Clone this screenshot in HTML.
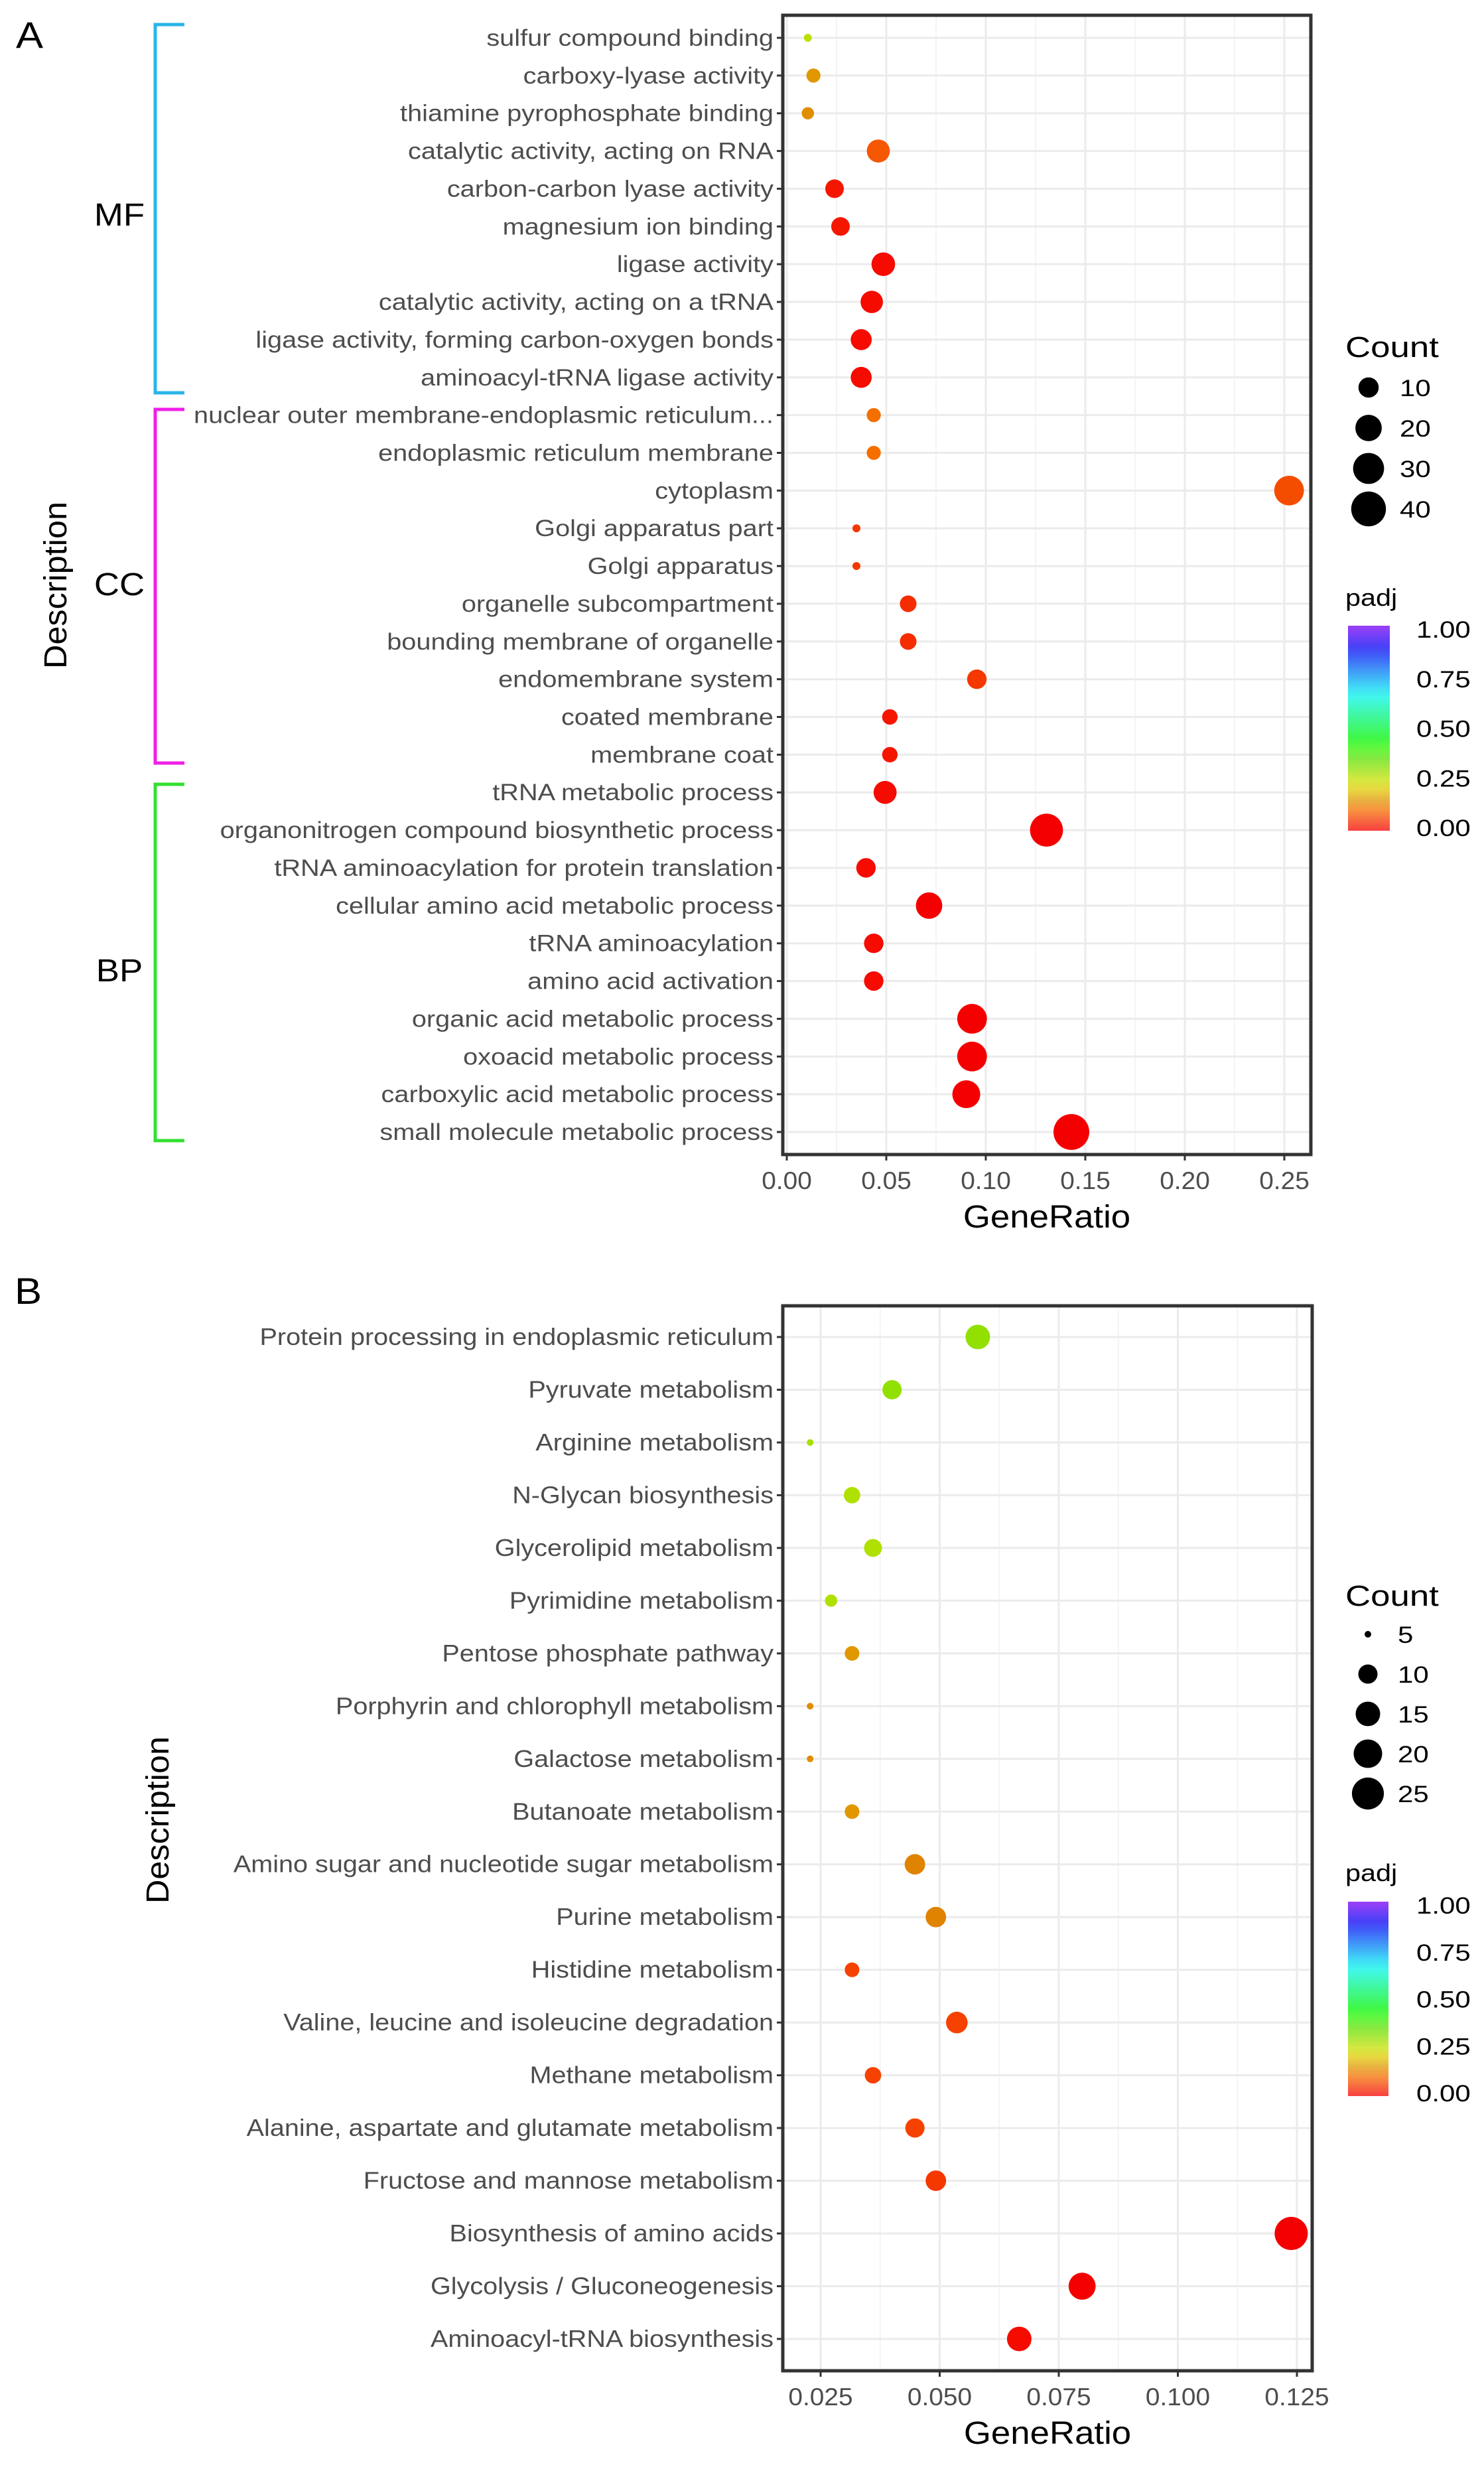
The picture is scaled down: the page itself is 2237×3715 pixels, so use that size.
<!DOCTYPE html>
<html><head><meta charset="utf-8"><style>
html,body{margin:0;padding:0;background:#fff}
svg{display:block}
text{font-family:"Liberation Sans",Arial,sans-serif}
</style></head><body>
<svg id="svg" xmlns="http://www.w3.org/2000/svg" width="2237" height="3715" viewBox="0 0 2237 3715">
<defs>
<linearGradient id="gradA" x1="0" y1="1" x2="0" y2="0"></linearGradient>
</defs>
<g id="root"></g>
</svg>
<script>
// ---------- Panel A data ----------
const termsA = ["sulfur compound binding","carboxy-lyase activity","thiamine pyrophosphate binding","catalytic activity, acting on RNA","carbon-carbon lyase activity","magnesium ion binding","ligase activity","catalytic activity, acting on a tRNA","ligase activity, forming carbon-oxygen bonds","aminoacyl-tRNA ligase activity","nuclear outer membrane-endoplasmic reticulum...","endoplasmic reticulum membrane","cytoplasm","Golgi apparatus part","Golgi apparatus","organelle subcompartment","bounding membrane of organelle","endomembrane system","coated membrane","membrane coat","tRNA metabolic process","organonitrogen compound biosynthetic process","tRNA aminoacylation for protein translation","cellular amino acid metabolic process","tRNA aminoacylation","amino acid activation","organic acid metabolic process","oxoacid metabolic process","carboxylic acid metabolic process","small molecule  metabolic process"];
const ratioA = [0.0106,0.0134,0.0106,0.046,0.024,0.027,0.0485,0.0427,0.0374,0.0374,0.0437,0.0437,0.2524,0.035,0.035,0.061,0.061,0.0955,0.0518,0.0518,0.0494,0.1305,0.0398,0.0715,0.0437,0.0437,0.0931,0.0931,0.0902,0.143];
const countA = [2,4,3,14,8,8,15,13,11,11,4,4,27,2,2,6,6,9,5,5,14,35,9,20,9,9,27,27,23,43];
const padjA = [0.26,0.15,0.14,0.08,0.02,0.02,0.01,0.01,0.01,0.01,0.1,0.1,0.07,0.05,0.05,0.04,0.04,0.05,0.02,0.02,0.01,0.0,0.01,0.0,0.01,0.01,0.0,0.0,0.0,0.0];
const xTicksA = [0,0.05,0.10,0.15,0.20,0.25];
const xTickLabelsA = ["0.00","0.05","0.10","0.15","0.20","0.25"];
const sizeLegendA = [10,20,30,40];
const groupsA = ["MF","CC","BP"];
// ---------- Panel B data ----------
const termsB = ["Protein processing in endoplasmic reticulum","Pyruvate metabolism","Arginine metabolism","N-Glycan biosynthesis","Glycerolipid metabolism","Pyrimidine metabolism","Pentose phosphate pathway","Porphyrin and chlorophyll metabolism","Galactose metabolism","Butanoate metabolism","Amino sugar and nucleotide sugar metabolism","Purine metabolism","Histidine metabolism","Valine, leucine and isoleucine degradation","Methane metabolism","Alanine, aspartate and glutamate metabolism","Fructose and mannose metabolism","Biosynthesis of amino acids","Glycolysis / Gluconeogenesis","Aminoacyl-tRNA biosynthesis"];
const ratioB = [0.058,0.040,0.0228,0.0316,0.036,0.0272,0.0316,0.0228,0.0228,0.0316,0.0448,0.0492,0.0316,0.0536,0.036,0.0448,0.0492,0.1238,0.0799,0.0667];
const countB = [15,10,5,8,9,6,7,5,5,7,11,11,7,12,8,10,11,27,18,15];
const padjB = [0.3,0.3,0.28,0.27,0.27,0.27,0.15,0.14,0.14,0.15,0.13,0.13,0.06,0.06,0.06,0.06,0.05,0.0,0.0,0.01];
const xTicksB = [0.025,0.05,0.075,0.1,0.125];
const xTickLabelsB = ["0.025","0.050","0.075","0.100","0.125"];
const sizeLegendB = [5,10,15,20,25];
const padjTicks = [0,0.25,0.5,0.75,1];
const padjTickLabels = ["0.00","0.25","0.50","0.75","1.00"];

const NS="http://www.w3.org/2000/svg";
const root=document.getElementById('root');
function el(tag,attrs,parent,txt){const e=document.createElementNS(NS,tag);for(const k in attrs)e.setAttribute(k,attrs[k]);if(txt!==undefined)e.textContent=txt;(parent||root).appendChild(e);return e;}
function txt(x,y,s,attrs,parent,sx,rot){
  attrs.transform='translate('+x+','+y+')'+(rot?' rotate('+rot+')':'')+' scale('+(sx||1.12)+',1)';
  attrs.x=0;attrs.y=0;
  return el('text',attrs,parent,s);
}
function colorOf(p){
  const h=p*270;
  const l=(h>30&&h<100)?44:48;
  return "hsl("+h.toFixed(1)+",100%,"+l+"%)";
}

const grad=document.getElementById('gradA');
for(let i=0;i<=20;i++){const s=document.createElementNS(NS,'stop');s.setAttribute('offset',(i/20));s.setAttribute('stop-color',colorOf(i/20));grad.appendChild(s);}

function panel(cfg){
  const g=el('g',{});
  
  
  const L=cfg.left,R=cfg.right,T=cfg.top,B=cfg.bottom;
  const xs=v=>cfg.x0px+(v-cfg.x0)*cfg.pxPer;
  const n=cfg.terms.length;
  const ys=i=>cfg.yFirst+i*(cfg.yLast-cfg.yFirst)/(n-1);
  const ds=c=>cfg.dmin+(cfg.dmax-cfg.dmin)*Math.sqrt(Math.max(0,(c-cfg.cmin)/(cfg.cmax-cfg.cmin)));
  const grid=el('g',{},g);
  
  
  for(let i=0;i<cfg.ticks.length;i++){
    const x=xs(cfg.ticks[i]);
    el('line',{x1:x,x2:x,y1:T,y2:B,stroke:'#ebebeb','stroke-width':3},grid);
    if(i<cfg.ticks.length-1){const xm=xs((cfg.ticks[i]+cfg.ticks[i+1])/2);el('line',{x1:xm,x2:xm,y1:T,y2:B,stroke:'#f2f2f2','stroke-width':1.6},grid);}
  }
  const xmin=xs(cfg.ticks[0]-(cfg.ticks[1]-cfg.ticks[0])/2);
  if(xmin>L) el('line',{x1:xmin,x2:xmin,y1:T,y2:B,stroke:'#f2f2f2','stroke-width':1.6},grid);
  for(let i=0;i<n;i++){const y=ys(i);el('line',{x1:L,x2:R,y1:y,y2:y,stroke:'#ebebeb','stroke-width':3},grid);}
  for(let i=0;i<n;i++){
    const c=el('circle',{cx:xs(cfg.ratio[i]),cy:ys(i),r:ds(cfg.count[i])/2,fill:colorOf(cfg.padj[i])},g);
    
    
  }
  const bx=el('rect',{x:L,y:T,width:R-L,height:B-T,fill:'none',stroke:'#333','stroke-width':5},g);
  
  
  for(let i=0;i<n;i++){
    const y=ys(i);
    el('line',{x1:L-9,x2:L,y1:y,y2:y,stroke:'#333','stroke-width':3},g);
    const t=txt(L-14,y+12,cfg.terms[i],{'text-anchor':'end','font-size':cfg.labelSize,fill:'#4d4d4d'},g,cfg.labelSx);
    
    
  }
  for(let i=0;i<cfg.ticks.length;i++){
    const x=xs(cfg.ticks[i]);
    el('line',{x1:x,x2:x,y1:B,y2:B+9,stroke:'#333','stroke-width':3},g);
    const t=txt(x,B+52,cfg.tickLabels[i],{'text-anchor':'middle','font-size':37,fill:'#4d4d4d'},g,1.05);
    
    
  }
  const xt=txt((L+R)/2,B+110,'GeneRatio',{'text-anchor':'middle','font-size':48,fill:'#000'},g,1.1);
  
  
  const yt=txt(cfg.descX,cfg.descY,'Description',{'text-anchor':'middle','font-size':48,fill:'#000'},g,1.05,-90);
  
  
  const pl=txt(cfg.letterX,cfg.letterY,cfg.letter,{'font-size':56,fill:'#000'},g,1.1);
  
  
  const lg=el('g',{},g);
  
  
  txt(cfg.legX,cfg.countTitleY+16,'Count',{'font-size':44,fill:'#000'},lg,1.2);
  for(let i=0;i<cfg.sizeLeg.length;i++){
    const y=cfg.legY0+i*cfg.legDy;
    el('circle',{cx:cfg.legDotX,cy:y,r:ds(cfg.sizeLeg[i])/2,fill:'#000'},lg);
    txt(cfg.legLabX,y+13,String(cfg.sizeLeg[i]),{'font-size':35,fill:'#000'},lg,1.2);
  }
  const cg=el('g',{},g);
  
  
  txt(cfg.legX,cfg.padjY+12,'padj',{'font-size':36,fill:'#000'},cg,1.15);
  el('rect',{x:cfg.barX0,y:cfg.barT,width:cfg.barX1-cfg.barX0,height:cfg.barB-cfg.barT,fill:'url(#gradA)',opacity:0.75},cg);
  for(let i=0;i<padjTicks.length;i++){
    const y=cfg.barB-5-padjTicks[i]*(cfg.barB-cfg.barT-10);
    txt(cfg.barLabX,y+13,padjTickLabels[i],{'font-size':35,fill:'#000'},cg,1.2);
  }
}

panel({name:'panel-a',left:1180,right:1976,top:23,bottom:1740,x0:0,x0px:1186,pxPer:3000,
  terms:termsA,ratio:ratioA,count:countA,padj:padjA,ticks:xTicksA,tickLabels:xTickLabelsA,
  yFirst:57,yLast:1706,labelSize:35,labelSx:1.135,dmin:12,dmax:55,cmin:2,cmax:45,
  descX:100,descY:882,letter:'A',letterX:24,letterY:72,
  legX:2028,countTitleY:522,sizeLeg:sizeLegendA,legY0:584,legDy:61,legDotX:2063,legLabX:2110,
  padjY:901,barX0:2032,barX1:2095,barT:943,barB:1252,barLabX:2135});

const bcol=['#29b6e8','#f020e8','#33e033'];
const brY=[[37,592],[617,1150],[1182,1719]];
const lblY=[323,880,1462];
for(let i=0;i<groupsA.length;i++){
  const bg=el('g',{});
  
  
  const [y1,y2]=brY[i];
  el('path',{d:'M278 '+y1+' H234 V'+y2+' H278',fill:'none',stroke:bcol[i],'stroke-width':5},bg);
  txt(180,lblY[i]+17,groupsA[i],{'text-anchor':'middle','font-size':48,fill:'#000'},bg,1.1);
}

panel({name:'panel-b',left:1180,right:1978,top:1968,bottom:3573,x0:0.025,x0px:1237,pxPer:7180,
  terms:termsB,ratio:ratioB,count:countB,padj:padjB,ticks:xTicksB,tickLabels:xTickLabelsB,
  yFirst:2015,yLast:3525,labelSize:36,labelSx:1.10,dmin:10,dmax:50,cmin:5,cmax:27,
  descX:254,descY:2743,letter:'B',letterX:22,letterY:1965,
  legX:2028,countTitleY:2404,sizeLeg:sizeLegendB,legY0:2463,legDy:60,legDotX:2062,legLabX:2107,
  padjY:2823,barX0:2032,barX1:2093,barT:2866,barB:3159,barLabX:2135});
</script>
</body></html>
